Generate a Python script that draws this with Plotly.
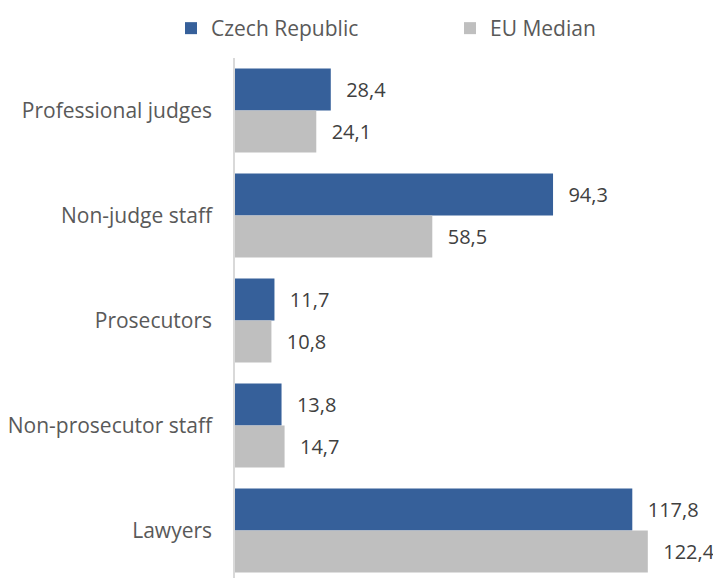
import plotly.graph_objects as go

categories = ["Professional judges", "Non-judge staff", "Prosecutors", "Non-prosecutor staff", "Lawyers"]
czech = [28.4, 94.3, 11.7, 13.8, 117.8]
eu_median = [24.1, 58.5, 10.8, 14.7, 122.4]

def fmt(v):
    return "  \u200a" + f"{v:.1f}".replace(".", ",")

FONT = "Open Sans"
TXT = "#404040"
FS = 21
VFS = 20
W, H = 713, 570  # page body adds 8px offset in the 721x578 window
T = 50
PH = H - T

fig = go.Figure()
fig.add_trace(go.Bar(
    name="Czech Republic", y=categories, x=czech, orientation="h",
    marker=dict(color="#36609A", line=dict(width=0)),
    text=[fmt(v) for v in czech], textposition="outside", cliponaxis=False,
    textfont=dict(family=FONT, size=VFS, color=TXT),
    legend="legend",
))
fig.add_trace(go.Bar(
    name="EU Median", y=categories, x=eu_median, orientation="h",
    marker=dict(color="#BFBFBF", line=dict(width=0)),
    text=[fmt(v) for v in eu_median], textposition="outside", cliponaxis=False,
    textfont=dict(family=FONT, size=VFS, color=TXT),
    legend="legend2",
))

leg_common = dict(
    orientation="h", xref="container", yref="container",
    xanchor="left", y=1.0, yanchor="top",
    bgcolor="rgba(0,0,0,0)",
    font=dict(family=FONT, size=FS, color="#595959"),
    itemclick=False, itemdoubleclick=False,
)

fig.update_layout(
    width=W, height=H,
    margin=dict(l=227, r=0, t=T, b=0, autoexpand=False),
    paper_bgcolor="white", plot_bgcolor="white",
    barmode="group", bargap=0.2, bargroupgap=0,
    font=dict(family=FONT, size=FS, color="#595959"),
    showlegend=True,
    legend=dict(x=163 / W, **leg_common),
    legend2=dict(x=442 / W, **leg_common),
    xaxis=dict(range=[0, 144.1], showgrid=False, zeroline=False, showticklabels=False,
               showline=False, fixedrange=True),
    yaxis=dict(type="category", categoryorder="array", categoryarray=categories,
               range=[4.452, -0.5], autorange=False,
               showgrid=False, zeroline=False, showline=True, linecolor="#D9D9D9", linewidth=1.5,
               ticks="", ticklabelstandoff=17,
               tickfont=dict(family=FONT, size=FS, color="#595959")),
)

fig.write_html(
    "out.html",
    post_script="document.documentElement.style.overflow='hidden';document.body.style.overflow='hidden';",
)
